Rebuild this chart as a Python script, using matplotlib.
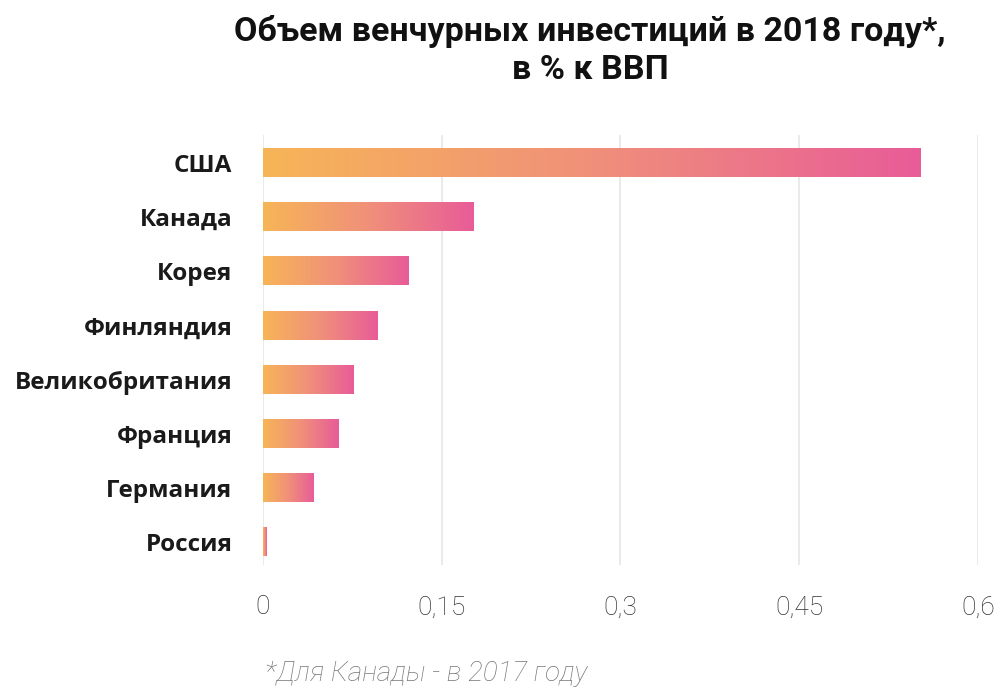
import matplotlib
matplotlib.use("Agg")
import matplotlib.pyplot as plt
import numpy as np
from matplotlib.colors import LinearSegmentedColormap

categories = ["США", "Канада", "Корея", "Финляндия", "Великобритания", "Франция", "Германия", "Россия"]
values = [0.552, 0.177, 0.122, 0.096, 0.076, 0.063, 0.042, 0.003]
xticks = [0, 0.15, 0.3, 0.45, 0.6]
xtick_labels = ["0", "0,15", "0,3", "0,45", "0,6"]
title = "Объем венчурных инвестиций в 2018 году*,\nв % к ВВП"
footnote = "*Для Канады - в 2017 году"

plt.rcParams['font.family'] = ['Roboto', 'DejaVu Sans']

fig = plt.figure(figsize=(10.02, 6.93), dpi=100)
ax = fig.add_axes([0.2625, 0.185, 0.7135, 0.62])

cmap = LinearSegmentedColormap.from_list("g", ["#F7B557", "#F0907A", "#E85C98"])
grad = np.linspace(0, 1, 256).reshape(1, -1)
h = 0.52
ypos = np.arange(len(categories))
for y, v in zip(ypos, values):
    ax.imshow(grad, cmap=cmap, aspect='auto', extent=[0, v, y + h / 2, y - h / 2],
              interpolation='bilinear', zorder=2)

ax.set_xlim(0, 0.6)
ax.set_ylim(7.42, -0.517)
ax.set_xticks(xticks)
ax.set_xticklabels(xtick_labels, fontsize=19, color="#333333", fontweight='light')
ax.set_yticks(ypos)
ax.set_yticklabels(categories, fontsize=17.5, fontweight='bold', color="#1a1a1a",
                   family=['Open Sans', 'DejaVu Sans'])
ax.tick_params(axis='both', length=0)
ax.tick_params(axis='x', pad=22)
ax.tick_params(axis='y', pad=22)
ax.grid(axis='x', color="#e6e6e6", linewidth=1.2, zorder=0)
for s in ax.spines.values():
    s.set_visible(False)

fig.text(0.589, 0.978, title, ha='center', va='top', fontsize=24.5, fontweight='bold',
         color="#111111", linespacing=1.22)
fig.text(0.264, 0.008, footnote, ha='left', va='bottom', fontsize=20, style='italic',
         fontweight='light', color="#777777")

fig.savefig("out.png", dpi=100, facecolor='white')
